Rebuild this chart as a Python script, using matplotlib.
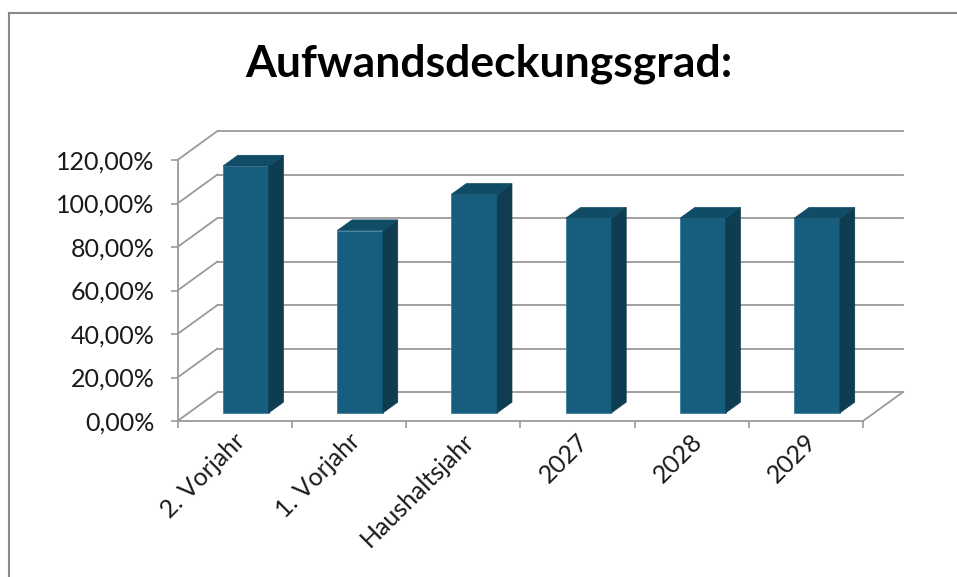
"""
Aufwandsdeckungsgrad chart - Excel-style 3D column look rebuilt with matplotlib
"""
import matplotlib
import matplotlib.pyplot as plt
from matplotlib.patches import Polygon
from matplotlib.lines import Line2D
from matplotlib.transforms import ScaledTranslation
import numpy as np

matplotlib.use("Agg")

# data
categories = ["2. Vorjahr", "1. Vorjahr", "Haushaltsjahr", "2027", "2028", "2029"]
deckungsgrad = [113.5, 83.8, 100.5, 89.5, 89.5, 89.5]
y_ticks = [0, 20, 40, 60, 80, 100, 120]
title = "Aufwandsdeckungsgrad:"

# style
FRONT = "#175e7e"
TOP = "#114c66"
SIDE = "#0e3d51"
GRID = "#9a9a9a"
FONT = "Lato"

W, H = 957, 577
fig = plt.figure(figsize=(W / 100, H / 100), dpi=100)
fig.patch.set_facecolor("white")

# axes = the front plane of the 3D box (pixel layout)
x0, x1, y0, y1 = 177.5, 863, 421, 160
ax = fig.add_axes([x0 / W, 1 - y0 / H, (x1 - x0) / W, (y0 - y1) / H])
n = len(categories)
ax.set_xlim(-0.5, n - 0.5)
ax.set_ylim(0, 120)
ax.patch.set_alpha(0)

# depth offset of the back wall in data units
dx = 40 / ((x1 - x0) / n)
dy = 29 / ((y0 - y1) / 120)
f0, fd = 0.28, 0.37  # bar front position / bar depth as fraction of full depth
bw = 0.4

# back wall + left wall gridlines
for v in y_ticks:
    ax.add_line(Line2D([-0.5, -0.5 + dx], [v, v + dy], color=GRID, lw=1.3,
                       clip_on=False, zorder=1))
    ax.add_line(Line2D([-0.5 + dx, n - 0.5 + dx], [v + dy, v + dy], color=GRID,
                       lw=1.3, clip_on=False, zorder=1))
# floor right edge
ax.add_line(Line2D([n - 0.5, n - 0.5 + dx], [0, dy], color=GRID, lw=1.3,
                   clip_on=False, zorder=1))

# bars
xs = np.arange(n)
ax.bar(xs + f0 * dx, deckungsgrad, width=bw, bottom=f0 * dy, color=FRONT,
       edgecolor="#3f7f9c", linewidth=0.6, zorder=3, clip_on=False)
for x, v in zip(xs, deckungsgrad):
    xl = x - bw / 2 + f0 * dx
    xr = x + bw / 2 + f0 * dx
    b = f0 * dy
    t = b + v
    ox, oy = fd * dx, fd * dy
    ax.add_patch(Polygon([(xr, b), (xr + ox, b + oy), (xr + ox, t + oy), (xr, t)],
                         closed=True, facecolor=SIDE, edgecolor=SIDE, lw=0.5,
                         zorder=3, clip_on=False))
    ax.add_patch(Polygon([(xl, t), (xr, t), (xr + ox, t + oy), (xl + ox, t + oy)],
                         closed=True, facecolor=TOP, edgecolor=TOP, lw=0.5,
                         zorder=3, clip_on=False))

# axes styling
for s in ["top", "right"]:
    ax.spines[s].set_visible(False)
for s in ["left", "bottom"]:
    ax.spines[s].set_color(GRID)
    ax.spines[s].set_linewidth(1.3)

ax.set_yticks(y_ticks)
ax.set_yticklabels([f"{v:.2f}".replace(".", ",") + "%" for v in y_ticks],
                   fontsize=18, family=FONT, color="#1a1a1a")
ax.tick_params(axis="y", length=5, width=1.2, color=GRID, pad=11.5)

ax.set_xticks(xs)
ax.set_xticklabels(categories, rotation=45, ha="right", va="center",
                   rotation_mode="anchor", fontsize=18, family=FONT, color="#1a1a1a")
ax.tick_params(axis="x", length=0, pad=12)
ax.set_xticks(np.arange(n + 1) - 0.5, minor=True)
ax.tick_params(axis="x", which="minor", length=5, width=1.2, color=GRID)
shift = ScaledTranslation(7 / 100, 0, fig.dpi_scale_trans)
for lbl in ax.get_xticklabels():
    lbl.set_transform(lbl.get_transform() + shift)

# title
fig.text(489 / W, 1 - 76.7 / H, title, ha="center", va="baseline",
         fontsize=32, fontweight="bold", family=FONT, color="black")

# chart frame (only top and left edges visible in the reference)
fig.add_artist(Line2D([8.5 / W, 1], [1 - 12.5 / H, 1 - 12.5 / H], color="#8a8a8a",
                      lw=1.5, transform=fig.transFigure))
fig.add_artist(Line2D([8.5 / W, 8.5 / W], [1 - 12.5 / H, 0], color="#8a8a8a",
                      lw=1.5, transform=fig.transFigure))

fig.savefig("out.png", dpi=100)
plt.close(fig)
